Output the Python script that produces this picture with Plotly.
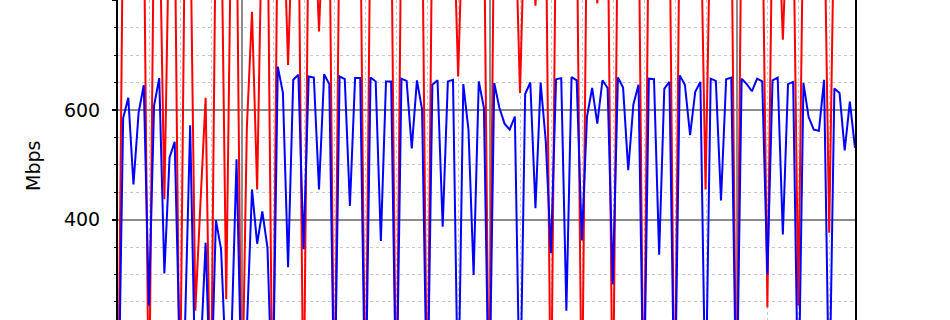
import plotly.graph_objects as go

# sample index (x axis labels are cropped out of view in the reference)
n_points = 144
sample_idx = list(range(n_points))

# blue series (Mbps)
blue_mbps = [
    0, 585, 622, 464, 595, 645, 243, 608, 658, 302,
    513, 542, 150, 205, 572, 100, 150, 358, 60, 399,
    346, 120, 180, 510, 80, 200, 455, 356, 415, 349,
    50, 679, 631, 313, 655, 664, 346, 661, 659, 455,
    665, 647, 40, 661, 656, 425, 658, 658, 30, 659,
    652, 361, 652, 652, 40, 657, 653, 530, 654, 601,
    30, 646, 654, 387, 652, 655, 50, 647, 564, 299,
    652, 604, 30, 649, 604, 575, 564, 588, 40, 629,
    650, 421, 650, 543, 339, 656, 658, 234, 660, 654,
    362, 588, 640, 575, 654, 640, 282, 659, 641, 490,
    610, 646, 40, 657, 656, 336, 639, 651, 30, 663,
    646, 554, 633, 651, 50, 657, 653, 435, 656, 659,
    30, 657, 647, 634, 657, 652, 300, 654, 659, 373,
    647, 651, 40, 649, 587, 564, 562, 655, 50, 639,
    631, 526, 615, 531,
]

# red series (Mbps)
red_mbps = [
    0, 980, 990, 985, 990, 975, 10, 980, 990, 437,
    985, 970, 20, 960, 975, 234, 430, 622, 15, 980,
    990, 255, 985, 980, 10, 567, 779, 455, 990, 985,
    5, 980, 990, 682, 985, 990, 10, 980, 990, 743,
    985, 980, 0, 985, 990, 980, 975, 985, 0, 990,
    980, 985, 990, 980, 0, 985, 990, 975, 985, 990,
    0, 980, 990, 985, 980, 990, 661, 985, 980, 990,
    975, 985, 0, 990, 980, 985, 990, 980, 631, 985,
    990, 790, 985, 980, 5, 990, 985, 980, 990, 975,
    10, 985, 990, 794, 980, 985, 0, 990, 985, 980,
    975, 990, 0, 985, 980, 990, 985, 975, 0, 980,
    990, 985, 980, 990, 455, 985, 980, 990, 975, 985,
    0, 990, 985, 980, 990, 985, 240, 980, 990, 728,
    985, 980, 243, 990, 985, 980, 975, 990, 376, 985,
    980, 990, 985, 980,
]

y_major_ticks = [200, 400, 600, 800]
y_tick_text = ["200", "400", "600", "800"]

fig = go.Figure()
fig.add_trace(go.Scatter(x=sample_idx, y=red_mbps, mode="lines",
                         line=dict(color="#ff0000", width=2), showlegend=False))
fig.add_trace(go.Scatter(x=sample_idx, y=blue_mbps, mode="lines",
                         line=dict(color="#0000ff", width=2), showlegend=False))

fig.update_layout(
    width=950, height=320,
    margin=dict(l=118, r=95, t=0, b=0),
    paper_bgcolor="white", plot_bgcolor="white",
    font=dict(family="DejaVu Sans", size=19, color="black"),
    xaxis=dict(
        range=[0, n_points - 1],
        showticklabels=False, ticks="", showline=False, zeroline=False,
        showgrid=True, tick0=24.1, dtick=48,
        gridcolor="#8c8c8c", gridwidth=1.5,
        minor=dict(tick0=24.1, dtick=6, showgrid=True, gridcolor="#c8c8c8",
                   griddash="dot", gridwidth=1.2),
    ),
    yaxis=dict(
        range=[217.0, 800.4],
        tickmode="array", tickvals=y_major_ticks, ticktext=y_tick_text,
        ticks="outside", ticklen=4, tickwidth=1.5, tickcolor="black",
        showline=True, linecolor="black", linewidth=2, mirror=True,
        zeroline=False,
        showgrid=True, gridcolor="#8c8c8c", gridwidth=1.5,
        minor=dict(dtick=50, tick0=0, ticks="outside", ticklen=2.5, tickwidth=1,
                   tickcolor="black", showgrid=True, gridcolor="#c8c8c8",
                   griddash="dot", gridwidth=1.2),
        ticklabelstandoff=8,
    ),
    annotations=[dict(text="Mbps", textangle=-90, xref="paper", yref="paper",
                      x=(33 - 118) / 737, y=1 - 166 / 320, showarrow=False,
                      xanchor="center", yanchor="middle",
                      font=dict(family="DejaVu Sans", size=19, color="black"))],
)

fig.write_html("out.html")
